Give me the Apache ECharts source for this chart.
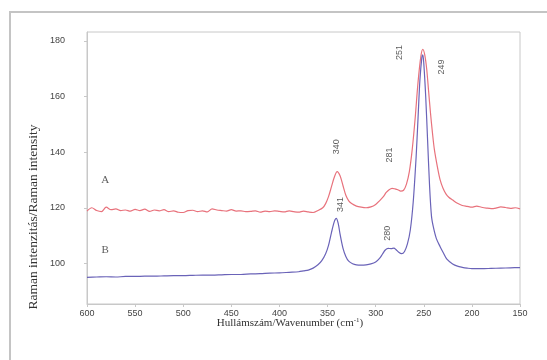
<!DOCTYPE html>
<html>
<head>
<meta charset="utf-8">
<script src="https://cdn.jsdelivr.net/npm/echarts@6/dist/echarts.min.js"></script>
<style>html,body{margin:0;padding:0;background:#fff;}#c{width:547px;height:360px;}</style>
</head>
<body>
<div id="c"></div>
<script>
// Wavenumber (cm-1) and intensity for spectrum A (red)
const wnA = [600,595,590,585,580,575,570,565,560,555,550,545,540,535,530,525,520,515,510,505,500,495,490,485,480,475,470,465,460,455,450,445,440,435,430,425,420,415,410,405,400,395,390,385,380,375,370,365,360,355,352,349,346,343,340,337,334,331,328,325,320,315,310,305,300,296,292,289,286,283,280,277,274,271,268,265,262,259,256,253,251,249,247,245,243,241,239,236,233,230,227,224,220,215,210,205,200,195,190,185,180,175,170,165,160,155,150];
const valA = [118.8,120.0,119.0,118.6,120.2,119.3,119.6,119.0,119.2,118.8,119.4,119.0,119.5,118.7,119.2,118.9,119.3,118.6,118.9,118.4,118.3,119.0,119.1,118.6,118.9,118.5,119.6,119.2,119.0,118.8,119.3,118.8,118.9,118.6,118.7,118.9,118.4,118.8,118.6,118.9,118.7,118.5,118.9,118.6,118.4,118.8,118.5,118.3,119.0,120.0,121.5,124.0,127.5,131.0,133.0,131.5,128.0,124.5,122.5,121.5,120.6,120.2,120.0,120.3,121.2,122.5,124.0,125.5,126.5,127.0,126.8,126.5,126.0,126.3,128.5,133.0,141.0,152.0,165.0,174.5,177.0,175.0,170.0,162.0,154.0,147.0,141.0,135.0,130.0,127.0,125.0,123.8,122.8,121.6,120.8,120.5,120.2,120.6,120.2,119.9,119.7,119.9,120.3,120.1,119.8,120.0,119.6];

// Spectrum B (blue)
const wnB = [600,590,580,570,560,550,540,530,520,510,500,490,480,470,460,450,440,430,420,410,400,390,380,375,370,365,360,356,352,349,346,343,341,339,337,334,331,328,324,320,315,310,305,300,296,293,290,287,284,281,279,276,273,270,267,264,261,258,256,254,252,251,250,248,246,244,242,240,237,233,230,226,220,215,210,205,200,190,180,170,160,150];
const valB = [95.0,95.1,95.2,95.1,95.3,95.3,95.4,95.4,95.5,95.6,95.6,95.7,95.8,95.8,95.9,96.0,96.0,96.2,96.3,96.5,96.6,96.8,97.0,97.3,97.6,98.3,99.5,101.0,103.5,106.5,111.0,115.0,116.2,114.5,110.5,105.5,102.5,100.8,99.9,99.5,99.4,99.5,99.8,100.5,101.8,103.3,104.8,105.4,105.3,105.5,105.0,104.0,103.5,104.3,107.0,112.0,122.0,138.0,152.0,166.0,174.0,175.0,172.0,160.0,144.0,128.0,117.0,113.0,109.0,106.0,104.0,101.5,99.8,99.0,98.6,98.3,98.1,98.1,98.2,98.3,98.4,98.5];

// Peak annotations: [wavenumber, intensity position, text]
const peakWn = [340.4, 336.5, 285.8, 287.8, 275.7, 232.0];
const peakVal = [141.9, 121.2, 139.0, 110.8, 175.8, 170.6];
const peakText = ['340', '341', '281', '280', '251', '249'];

// Curve names and positions
const curveNames = ['A', 'B'];
const curveNameWn = [581, 581];
const curveNameVal = [130.0, 104.8];

const yTicks = [100, 120, 140, 160, 180];

const chart = echarts.init(document.getElementById('c'), null, {renderer: 'canvas'});

const toPairs = (xs, ys) => xs.map((x, i) => [x, ys[i]]);

const option = {
  backgroundColor: '#ffffff',
  animation: false,
  grid: {left: 87, right: 27, top: 32, bottom: 56, show: true, borderColor: '#c8c8c8', borderWidth: 1, backgroundColor: '#ffffff'},
  xAxis: {
    type: 'value', min: 150, max: 600, interval: 50, inverse: true,
    axisLine: {show: true, lineStyle: {color: '#c8c8c8'}},
    axisTick: {show: true, length: 3, lineStyle: {color: '#c8c8c8'}},
    splitLine: {show: false},
    axisLabel: {color: '#444', fontFamily: 'Liberation Sans', fontSize: 9, margin: 5}
  },
  yAxis: {
    type: 'value', min: 85.4, max: 183.2,
    axisLine: {show: true, lineStyle: {color: '#c8c8c8'}},
    axisTick: {show: true, length: 3, lineStyle: {color: '#c8c8c8'}, customValues: yTicks},
    splitLine: {show: false},
    axisLabel: {color: '#444', fontFamily: 'Liberation Sans', fontSize: 9, margin: 22, customValues: yTicks}
  },
  series: [
    {type: 'line', data: toPairs(wnA, valA), showSymbol: false, smooth: 0.3, lineStyle: {color: '#e8727c', width: 1.2}},
    {type: 'line', data: toPairs(wnB, valB), showSymbol: false, smooth: 0.3, lineStyle: {color: '#6a63b8', width: 1.2}},
    {type: 'scatter', symbolSize: 0, data: toPairs(peakWn, peakVal).map((p, i) => ({value: p, name: peakText[i]})),
      label: {show: true, position: 'inside', rotate: 90, formatter: p => p.name, color: '#333', fontFamily: 'Liberation Sans', fontSize: 9}},
    {type: 'scatter', symbolSize: 0, data: toPairs(curveNameWn, curveNameVal).map((p, i) => ({value: p, name: curveNames[i]})),
      label: {show: true, position: 'inside', formatter: p => p.name, color: '#333', fontFamily: 'Liberation Serif', fontSize: 11}}
  ],
  graphic: [
    {type: 'rect', shape: {x: 10, y: 12, width: 600, height: 400}, style: {fill: 'none', stroke: '#c4c4c4', lineWidth: 2}, silent: true},
    {type: 'text', x: 290, y: 323, style: {
      text: '{a|Hullámszám/Wavenumber (cm}{s|-1}{a|)}', align: 'center', verticalAlign: 'middle',
      rich: {a: {fontFamily: 'Liberation Serif', fontSize: 11, fill: '#333'}, s: {fontFamily: 'Liberation Serif', fontSize: 7, fill: '#333', verticalAlign: 'top', padding: [0,0,6,0]}}
    }},
    {type: 'text', x: 33, y: 217, rotation: Math.PI / 2, style: {
      text: 'Raman intenzitás/Raman intensity', align: 'center', verticalAlign: 'middle',
      fontFamily: 'Liberation Serif', fontSize: 13.5, fill: '#333'
    }}
  ]
};
chart.setOption(option);
</script>
</body>
</html>
